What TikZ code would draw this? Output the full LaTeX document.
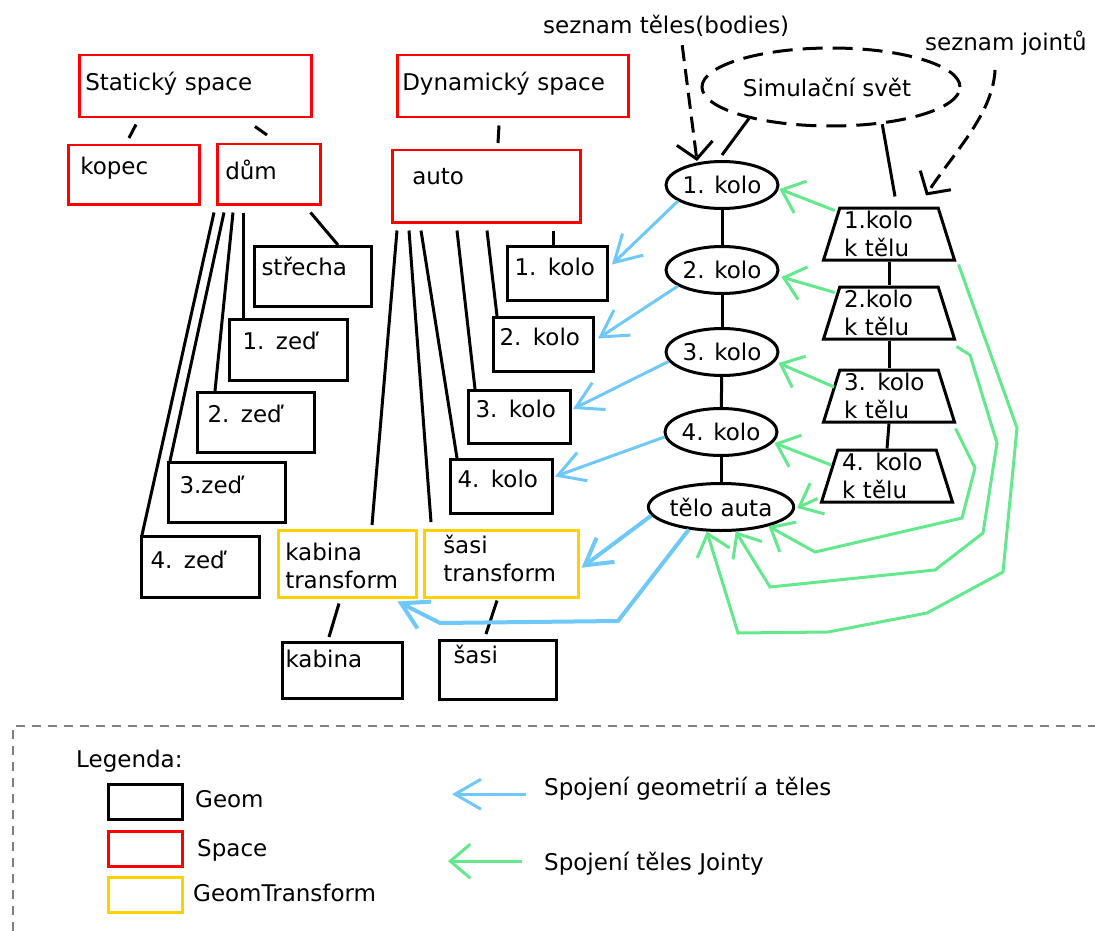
\documentclass[tikz,border=0pt]{standalone}
\usepackage{fontspec}
\setmainfont{DejaVu Sans}
\usetikzlibrary{arrows.meta, positioning, shapes.geometric}
\definecolor{spacered}{RGB}{255,0,0}
\definecolor{transyellow}{RGB}{255,208,0}
\definecolor{linkblue}{RGB}{110,200,250}
\definecolor{jointgreen}{RGB}{100,232,140}

\begin{document}
\begin{tikzpicture}[x=1pt, y=-1pt, font=\fontsize{23}{28}\selectfont,
    geombox/.style={draw=black, line width=3pt, anchor=north west, align=left, inner ysep=0pt},
    spacebox/.style={geombox, draw=spacered, line width=2.5pt},
    transbox/.style={geombox, draw=transyellow, line width=2.5pt},
    bodynode/.style={ellipse, draw, line width=3pt, minimum width=112pt, minimum height=47pt, inner sep=0pt},
    jointnode/.style={trapezium, draw, line width=3pt, trapezium left angle=72, trapezium right angle=72,
        trapezium stretches=true, minimum width=131pt, minimum height=52pt, inner sep=0pt, text width=90pt, align=left},
    txt/.style={anchor=base west, inner sep=0pt},
    tie/.style={line width=3pt},
    geolink/.style={draw=linkblue, line width=3pt, -{Straight Barb[length=26pt, width=30pt]}},
    jointlink/.style={draw=jointgreen, line width=3pt, -{Straight Barb[length=20pt, width=34pt]}},
    listarrow/.style={line width=3pt, dash pattern=on 16pt off 8pt, -{Straight Barb[length=16pt, width=36pt]}},
    legendbox/.style={draw, line width=3pt, anchor=north west, minimum width=74pt, minimum height=35pt, inner sep=0pt}]
  \useasboundingbox (0,0) rectangle (1095,931);

  % Staticky space
  \node[spacebox, text width=220pt, inner xsep=6pt, text height=35pt, text depth=27pt] (stat) at (78,54) {Statický space};
  \node[spacebox, text width=107pt, inner xsep=12pt, text height=29pt, text depth=30pt] (kopec) at (67,144) {kopec};
  \node[spacebox, text width=87pt, inner xsep=8pt, text height=35pt, text depth=25pt] (dum) at (216,143) {dům};
  \node[geombox, text width=103pt, inner xsep=7pt, text height=29pt, text depth=31pt] (strecha) at (253,245) {střecha};
  \node[geombox, text width=92pt, inner xsep=13pt, text height=30pt, text depth=31pt] (zed1) at (228,318) {1. zeď};
  \node[geombox, text width=97pt, inner xsep=10pt, text height=30pt, text depth=30pt] (zed2) at (196,391) {2. zeď};
  \node[geombox, text width=95pt, inner xsep=11pt, text height=31pt, text depth=29pt] (zed3) at (167,461) {3.zeď};
  \node[geombox, text width=100pt, inner xsep=9pt, text height=32pt, text depth=29pt] (zed4) at (140,535) {4. zeď};
  \draw[tie] ([shift={(58,6)}]stat.south west) -- ([shift={(62,-6)}]kopec.north west);
  \draw[tie] ([shift={(177,8)}]stat.south west) -- ([shift={(51,-8)}]dum.north west);
  \draw[tie] ([shift={(-11,7)}]dum.south east) -- ([shift={(85,0)}]strecha.north west);
  \draw[tie] ([shift={(27,7)}]dum.south west) -- ([shift={(15,0)}]zed1.north west);
  \draw[tie] ([shift={(17,7)}]dum.south west) -- ([shift={(19,0)}]zed2.north west);
  \draw[tie] ([shift={(8,7)}]dum.south west) -- ([shift={(3,0)}]zed3.north west);
  \draw[tie] ([shift={(-2,7)}]dum.south west) -- ([shift={(2,0)}]zed4.north west);

  % Dynamicky space
  \node[spacebox, text width=221pt, inner xsep=5pt, text height=35pt, text depth=27pt] (dyn) at (396,54) {Dynamický space};
  \node[spacebox, text width=148pt, inner xsep=20pt, text height=34pt, text depth=38pt] (auto) at (391,149) {auto};
  \node[geombox, text width=86pt, inner xsep=7pt, text height=29pt, text depth=25pt] (kb1) at (506,245) {1. kolo};
  \node[geombox, text width=88pt, inner xsep=6pt, text height=28pt, text depth=26pt] (kb2) at (492,316) {2. kolo};
  \node[geombox, text width=88pt, inner xsep=7pt, text height=27pt, text depth=26pt] (kb3) at (467,389) {3. kolo};
  \node[geombox, text width=88pt, inner xsep=7pt, text height=28pt, text depth=26pt] (kb4) at (449,458) {4. kolo};
  \node[transbox, text width=124pt, inner xsep=7pt, text height=30pt, text depth=37pt] (kabtr) at (277,529) {kabina\\transform};
  \node[transbox, text width=116pt, inner xsep=19pt, text height=23pt, text depth=44pt] (sastr) at (423,529) {šasi\\transform};
  \node[geombox, text width=114pt, inner xsep=3pt, text height=25pt, text depth=31pt] (kabina) at (281,641) {kabina};
  \node[geombox, text width=89pt, inner xsep=14pt, text height=23pt, text depth=36pt] (sasi) at (438,639) {šasi};
  \draw[tie] ([shift={(103,7)}]dyn.south west) -- ([shift={(107,-6)}]auto.north west);
  \draw[tie] ([shift={(162,7)}]auto.south west) -- ([shift={(47,0)}]kb1.north west);
  \draw[tie] ([shift={(96,7)}]auto.south west) -- ([shift={(5,0)}]kb2.north west);
  \draw[tie] ([shift={(66,7)}]auto.south west) -- ([shift={(8,0)}]kb3.north west);
  \draw[tie] ([shift={(30,7)}]auto.south west) -- ([shift={(8,0)}]kb4.north west);
  \draw[tie] ([shift={(18,7)}]auto.south west) -- ([shift={(8,-7)}]sastr.north west);
  \draw[tie] ([shift={(6,7)}]auto.south west) -- ([shift={(95,-4)}]kabtr.north west);
  \draw[tie] ([shift={(62,5)}]kabtr.south west) -- ([shift={(48,-4)}]kabina.north west);
  \draw[tie] ([shift={(74,2)}]sastr.south west) -- ([shift={(48,-5)}]sasi.north west);

  % Simulacni svet, telesa a jointy
  \node[bodynode, dash pattern=on 20pt off 10pt, minimum width=258pt, minimum height=78pt] (svet) at (831,87) {Simulační svět\hspace*{8pt}};
  \node[bodynode] (body1) at (722,185) {1. kolo};
  \node[bodynode] (body2) at (722,270) {2. kolo};
  \node[bodynode] (body3) at (722,352) {3. kolo};
  \node[bodynode] (body4) at (721,432) {4. kolo};
  \node[bodynode] (bodyauto) at (721,507) {tělo auta};
  \node[jointnode] (joint1) at (889,234) {1.kolo\\k tělu};
  \node[jointnode] (joint2) at (889,313) {2.kolo\\k tělu};
  \node[jointnode] (joint3) at (889,396) {3. kolo\\k tělu};
  \node[jointnode] (joint4) at (887,476) {4. kolo\\k tělu};
  \node[txt] (lstbodies) at (543,34) {seznam těles(bodies)};
  \node[txt] (lstjoints) at (925,51) {seznam jointů};
  \draw[tie] (svet.201) -- ([shift={(0,-5)}]body1.north);
  \draw[tie] (svet.-36) -- ([shift={(6,-10)}]joint1.north);
  \draw[tie] (body1) -- (body2);
  \draw[tie] (body2) -- (body3);
  \draw[tie] (body3) -- (body4);
  \draw[tie] (body4) -- (bodyauto);
  \draw[tie] (joint1.south) -- (joint2.north);
  \draw[tie] (joint2.south) -- (joint3.north);
  \draw[tie] (joint3.south) -- (joint4.north);
  \draw[listarrow] ([shift={(16,8)}]lstbodies.south) -- ([shift={(-25,1)}]body1.north);
  \draw[listarrow] ([shift={(-11,14)}]lstjoints.south) .. controls +(-2,45) and +(25,-40) .. ([shift={(37,-11)}]joint1.north);

  % Spojeni geometrii a teles
  \draw[geolink] (body1.200) -- ([shift={(3,-9)}]kb1.east);
  \draw[geolink] (body2.200) -- ([shift={(3,-6)}]kb2.east);
  \draw[geolink] (body3.190) -- ([shift={(1,-8)}]kb3.east);
  \draw[geolink] (body4.185) -- ([shift={(1,-10)}]kb4.east);
  \draw[geolink, line width=4pt] (bodyauto.187) -- ([shift={(2,4)}]sastr.east);
  \draw[geolink, line width=4pt] (bodyauto.215) -- (618,621) -- (440,623) -- ([shift={(-20,3)}]kabtr.south east);

  % Spojeni teles jointy
  \draw[jointlink] ([shift={(-4,4)}]joint1.top left corner) -- ([shift={(0,4)}]body1.east);
  \draw[jointlink] ([shift={(-4,7)}]joint2.top left corner) -- ([shift={(2,7)}]body2.east);
  \draw[jointlink] ([shift={(4,-9)}]joint3.west) -- ([shift={(-1,11)}]body3.east);
  \draw[jointlink] ([shift={(3,-11)}]joint4.west) -- ([shift={(-4,11)}]body4.east);
  \draw[jointlink] ([shift={(-2,-5)}]joint4.bottom left corner) -- ([shift={(2,1)}]bodyauto.east);
  \draw[jointlink] ([shift={(-1,5)}]joint3.bottom right corner) -- (975,468) -- (962,518) -- (815,552) -- (bodyauto.-22);
  \draw[jointlink] ([shift={(0,6)}]joint2.bottom right corner) -- (970,355) -- (997,443) -- (983,533)
      -- (935,570) -- (770,587) -- (bodyauto.-59);
  \draw[jointlink] ([shift={(2,3)}]joint1.bottom right corner) -- (1017,428) -- (1003,572) -- (927,613)
      -- (828,632) -- (738,633) -- (bodyauto.240);

  % Legenda
  \draw[gray, line width=1.5pt, dash pattern=on 9pt off 7pt] (13,931) |- (1095,726);
  \node[txt] (legtitle) at (76,767) {Legenda:};
  \node[legendbox] (lgeom) at (107,783) {};
  \node[legendbox, draw=spacered, line width=2.5pt] (lspace) at (107,830) {};
  \node[legendbox, draw=transyellow, line width=2.5pt] (ltrans) at (107,876) {};
  \node[txt] (lgeomtxt) at (195,807) {Geom};
  \node[txt] (lspacetxt) at (197,856) {Space};
  \node[txt] (ltranstxt) at (193,901) {GeomTransform};
  \node[txt] (lgeolink) at (544,795) {Spojení geometrií a těles};
  \node[txt] (ljointlink) at (544,870) {Spojení těles Jointy};
  \draw[geolink] ([shift={(-18,6)}]lgeolink.west) -- ++(-74,0);
  \draw[jointlink] ([shift={(-22,-2)}]ljointlink.west) -- ++(-74,0);
\end{tikzpicture}
\end{document}
